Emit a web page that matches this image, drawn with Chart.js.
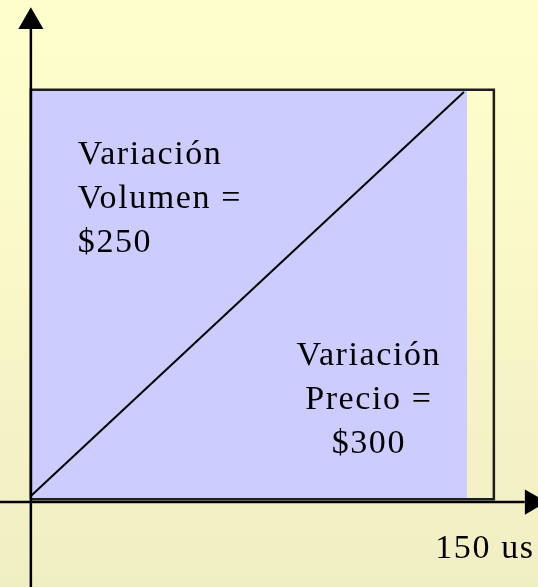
<!DOCTYPE html>
<html>
<head>
<meta charset="utf-8">
<script src="https://cdn.jsdelivr.net/npm/chart.js@4.4.0/dist/chart.umd.min.js"></script>
<style>
  html, body { margin: 0; padding: 0; }
  body {
    width: 538px; height: 587px; overflow: hidden;
    background: linear-gradient(to bottom, #ffffcd 0%, #f9f7c8 50%, #f0eec3 100%);
  }
  #wrap { position: relative; width: 538px; height: 587px; }
</style>
</head>
<body>
<div id="wrap"><canvas id="data"></canvas></div>
<script>
// values (x: volume in us, y: price, arbitrary units)
const volumeOld = 0;
const volumeNew = 150;      // outlined box ends at "150 us"
const volumeFilled = 141.3; // shaded area stops a little earlier
const priceBase = 0.7;
const priceTop = 100;

const xRange = [-10, 164.3];
const yRange = [-20.6, 121.8];

const leftLines = ['Variación', 'Volumen =', '$250'];
const rightLines = ['Variación', 'Precio =', '$300'];
const axisLabel = '150 us';

// text placement (data units), kept apart from the values above
const notes = [
  { lines: leftLines, x: 15.2, y: 81.9, align: 'left' },
  { lines: rightLines, x: 109.5, y: 33.3, align: 'center' },
  { lines: [axisLabel], x: 147.1, y: -13.5, align: 'center' }
];

const textPlugin = {
  id: 'notes',
  afterDatasetsDraw(chart) {
    const ctx = chart.ctx;
    const xs = chart.scales.x, ys = chart.scales.y;
    ctx.save();
    ctx.fillStyle = '#000';
    ctx.font = '34px "Liberation Serif", serif';
    ctx.textBaseline = 'alphabetic';
    if ('letterSpacing' in ctx) ctx.letterSpacing = '1.6px';
    notes.forEach(n => {
      ctx.textAlign = n.align;
      const px = xs.getPixelForValue(n.x);
      const py = ys.getPixelForValue(n.y);
      n.lines.forEach((t, i) => ctx.fillText(t, px, py + i * 44));
    });
    ctx.restore();
  }
};

const noPoint = { pointRadius: 0, pointHoverRadius: 0 };

new Chart(document.getElementById('data'), {
  type: 'scatter',
  data: {
    datasets: [
      { // shaded area, drawn first
        order: 10,
        data: [{ x: volumeOld, y: priceTop }, { x: volumeFilled, y: priceTop }],
        showLine: true, borderWidth: 0, borderColor: 'rgba(0,0,0,0)',
        backgroundColor: '#ccccff', fill: { value: priceBase }, ...noPoint
      },
      { // outline box
        order: 5,
        data: [
          { x: volumeOld, y: priceBase }, { x: volumeNew, y: priceBase },
          { x: volumeNew, y: priceTop }, { x: volumeOld, y: priceTop },
          { x: volumeOld, y: priceBase }
        ],
        showLine: true, borderColor: '#1e1e1e', borderWidth: 2.5, fill: false, ...noPoint
      },
      { // diagonal
        order: 4,
        data: [{ x: volumeOld, y: priceBase + 0.8 }, { x: volumeFilled - 1, y: priceTop - 0.5 }],
        showLine: true, borderColor: '#000', borderWidth: 2, ...noPoint
      },
      { // x axis
        order: 3,
        data: [{ x: xRange[0], y: 0 }, { x: 160, y: 0 }],
        showLine: true, borderColor: '#000', borderWidth: 2.5, ...noPoint
      },
      { // y axis
        order: 2,
        data: [{ x: 0, y: yRange[0] }, { x: 0, y: 115 }],
        showLine: true, borderColor: '#000', borderWidth: 2.5, ...noPoint
      },
      { // arrow heads
        order: 1,
        data: [{ x: 0, y: 116.5 }, { x: 162.4, y: 0 }],
        pointStyle: 'triangle', pointRadius: 14.5, pointHoverRadius: 14.5,
        pointRotation: [0, 90], backgroundColor: '#000', borderColor: '#000', borderWidth: 0
      }
    ]
  },
  options: {
    responsive: true,
    maintainAspectRatio: false,
    animation: false,
    events: [],
    layout: { padding: 0, autoPadding: false },
    plugins: { legend: { display: false }, tooltip: { enabled: false } },
    scales: {
      x: { type: 'linear', min: xRange[0], max: xRange[1], display: false },
      y: { type: 'linear', min: yRange[0], max: yRange[1], display: false }
    }
  },
  plugins: [textPlugin]
});
</script>
</body>
</html>
